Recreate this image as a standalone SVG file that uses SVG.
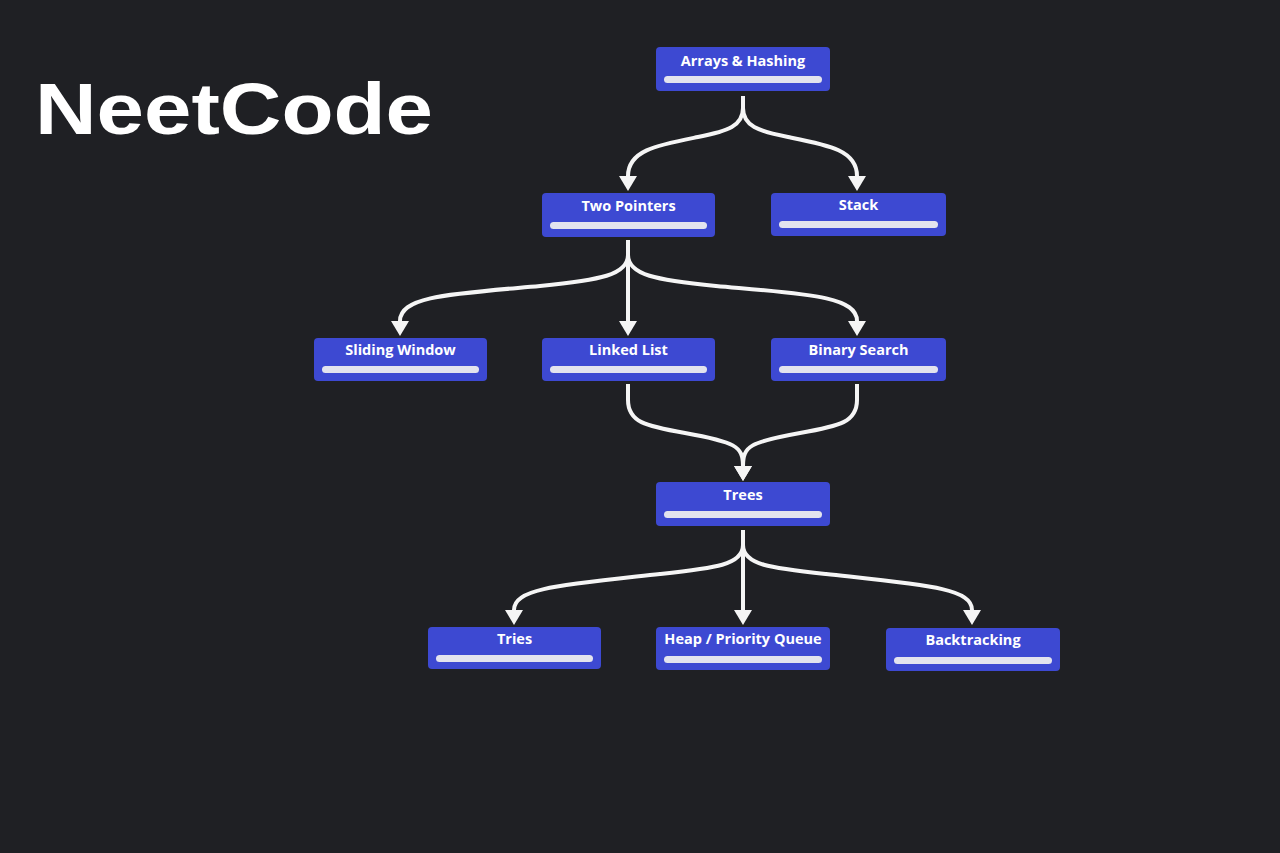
<svg xmlns="http://www.w3.org/2000/svg" width="1280" height="853" viewBox="0 0 1280 853">
<defs>
<style>
.node rect.box{fill:#3d49d2;}
.node rect.bar{fill:#e3e3ee;}
.node text{fill:#ffffff;font-family:"Open Sans","Noto Sans","Liberation Sans",sans-serif;font-weight:700;font-size:14.5px;text-anchor:middle;}
.edge{fill:none;stroke:#f5f5f5;stroke-width:4;marker-end:url(#arrow);}
</style>
<marker id="arrow" viewBox="0 0 15 18" refX="0" refY="9" markerWidth="15" markerHeight="18" markerUnits="userSpaceOnUse" orient="auto">
<path d="M0,0 L15,9 L0,18 z" fill="#f5f5f5"/>
</marker>
</defs>
<rect width="1280" height="853" fill="#1f2024"/>
<text x="35" y="134" font-family="Liberation Sans, Arial, sans-serif" font-weight="700" font-size="72" fill="#ffffff" textLength="398" lengthAdjust="spacingAndGlyphs">NeetCode</text>

<g id="connectors">
<path class="edge" d="M743,96 L743,108 C743,126 728,131 698,137 C658,145 628,150 628,176"/>
<path class="edge" d="M743,96 L743,108 C743,126 758,131 788,137 C828,145 857,150 857,176"/>
<path class="edge" d="M628,240 L628,255 C628,275 600,280 540,286 C450,294 400,296 400,321"/>
<path class="edge" d="M628,240 L628,321"/>
<path class="edge" d="M628,240 L628,255 C628,275 656,280 716,286 C806,294 857,296 857,321"/>
<path class="edge" d="M628,384 L628,400 C628,422 645,426 685,433 C735,442 743,446 743,466"/>
<path class="edge" d="M857,384 L857,400 C857,422 840,426 800,433 C750,442 743,446 743,466"/>
<path class="edge" d="M743,530 L743,545 C743,565 715,568 660,574 C560,585 514,588 514,610"/>
<path class="edge" d="M743,530 L743,610"/>
<path class="edge" d="M743,530 L743,545 C743,565 771,568 826,574 C926,585 972,588 972,610"/>
</g>

<g id="arrays-hashing" class="node">
<rect class="box" x="656" y="47" width="174" height="44" rx="4"/>
<text x="743" y="66">Arrays &amp; Hashing</text>
<rect class="bar" x="664" y="76" width="158" height="7" rx="3.5"/>
</g>
<g id="two-pointers" class="node">
<rect class="box" x="542" y="193" width="173" height="44" rx="4"/>
<text x="628.5" y="211">Two Pointers</text>
<rect class="bar" x="550" y="222" width="157" height="7" rx="3.5"/>
</g>
<g id="stack" class="node">
<rect class="box" x="771" y="193" width="175" height="43" rx="4"/>
<text x="858.5" y="210">Stack</text>
<rect class="bar" x="779" y="221" width="159" height="7" rx="3.5"/>
</g>
<g id="sliding-window" class="node">
<rect class="box" x="314" y="338" width="173" height="43" rx="4"/>
<text x="400.5" y="355">Sliding Window</text>
<rect class="bar" x="322" y="366" width="157" height="7" rx="3.5"/>
</g>
<g id="linked-list" class="node">
<rect class="box" x="542" y="338" width="173" height="43" rx="4"/>
<text x="628.5" y="355">Linked List</text>
<rect class="bar" x="550" y="366" width="157" height="7" rx="3.5"/>
</g>
<g id="binary-search" class="node">
<rect class="box" x="771" y="338" width="175" height="43" rx="4"/>
<text x="858.5" y="355">Binary Search</text>
<rect class="bar" x="779" y="366" width="159" height="7" rx="3.5"/>
</g>
<g id="trees" class="node">
<rect class="box" x="656" y="482" width="174" height="44" rx="4"/>
<text x="743" y="500">Trees</text>
<rect class="bar" x="664" y="511" width="158" height="7" rx="3.5"/>
</g>
<g id="tries" class="node">
<rect class="box" x="428" y="627" width="173" height="42" rx="4"/>
<text x="514.5" y="644">Tries</text>
<rect class="bar" x="436" y="655" width="157" height="7" rx="3.5"/>
</g>
<g id="heap-priority-queue" class="node">
<rect class="box" x="656" y="627" width="174" height="43" rx="4"/>
<text x="743" y="644">Heap / Priority Queue</text>
<rect class="bar" x="664" y="656" width="158" height="7" rx="3.5"/>
</g>
<g id="backtracking" class="node">
<rect class="box" x="886" y="628" width="174" height="43" rx="4"/>
<text x="973" y="645">Backtracking</text>
<rect class="bar" x="894" y="657" width="158" height="7" rx="3.5"/>
</g>
</svg>
